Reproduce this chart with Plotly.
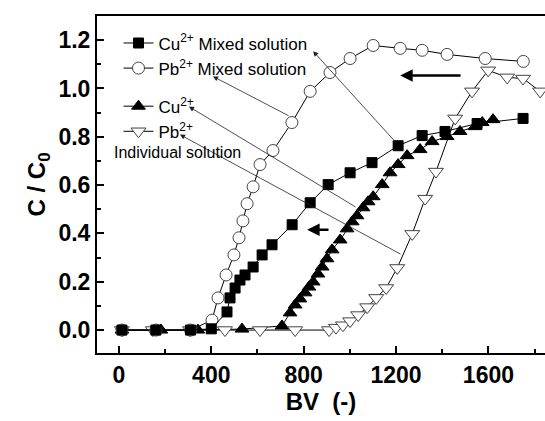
import plotly.graph_objects as go

# ---- data ----
cu_mix_bv = [13, 160, 310, 400, 468, 481, 503, 524, 546, 581, 620, 663, 750, 828, 906, 1001, 1096, 1209, 1313, 1412, 1551, 1750]
cu_mix_c = [0, 0, 0, 0.005, 0.075, 0.133, 0.174, 0.207, 0.228, 0.261, 0.311, 0.353, 0.436, 0.527, 0.602, 0.651, 0.693, 0.763, 0.805, 0.822, 0.855, 0.876]

pb_mix_bv = [13, 160, 310, 403, 429, 464, 498, 520, 537, 555, 581, 611, 667, 749, 828, 914, 1001, 1101, 1218, 1313, 1421, 1586, 1751]
pb_mix_c = [0, 0, 0, 0.041, 0.133, 0.228, 0.311, 0.382, 0.452, 0.523, 0.593, 0.685, 0.743, 0.859, 0.988, 1.066, 1.124, 1.178, 1.166, 1.158, 1.141, 1.124, 1.112]

cu_ind_bv = [13, 182, 342, 533, 706, 741, 763, 784, 806, 823, 841, 862, 880, 901, 923, 958, 988, 1010, 1031, 1057, 1079, 1101, 1140, 1174, 1209, 1248, 1304, 1356, 1421, 1477, 1542, 1573, 1620]
cu_ind_c = [0, 0, 0, 0.004, 0.017, 0.071, 0.104, 0.129, 0.154, 0.178, 0.199, 0.232, 0.261, 0.295, 0.332, 0.373, 0.419, 0.448, 0.473, 0.506, 0.531, 0.552, 0.602, 0.651, 0.685, 0.722, 0.747, 0.780, 0.801, 0.822, 0.842, 0.859, 0.871]

pb_ind_bv = [13, 147, 308, 459, 611, 763, 910, 940, 970, 1001, 1036, 1075, 1114, 1157, 1205, 1270, 1326, 1373, 1456, 1529, 1599, 1681, 1750, 1824]
pb_ind_c = [0, 0, 0, 0, 0, 0, 0.0, 0.01, 0.02, 0.037, 0.062, 0.095, 0.133, 0.174, 0.257, 0.398, 0.544, 0.656, 0.876, 0.988, 1.075, 1.046, 1.041, 0.988]

x_ticks = [0, 400, 800, 1200, 1600]
y_ticks = [0.0, 0.2, 0.4, 0.6, 0.8, 1.0, 1.2]

FONT = "Liberation Sans, Arial, sans-serif"
LINE = dict(color="black", width=1)

fig = go.Figure()
fig.add_trace(go.Scatter(
    x=cu_ind_bv, y=cu_ind_c, mode="lines+markers", name="Cu<sup>2+</sup>",
    legendgroup="ind", line=LINE, legendrank=3,
    marker=dict(symbol="triangle-up", size=12, color="black", line=dict(color="black", width=1))))
fig.add_trace(go.Scatter(
    x=pb_ind_bv, y=pb_ind_c, mode="lines+markers", name="Pb<sup>2+</sup>",
    legendgroup="ind", line=LINE, legendrank=4,
    marker=dict(symbol="triangle-down", size=13, color="white", line=dict(color="#444", width=1))))
fig.add_trace(go.Scatter(
    x=pb_mix_bv, y=pb_mix_c, mode="lines+markers", name="Pb<sup>2+</sup> Mixed solution",
    legendgroup="mix", line=LINE, legendrank=2,
    marker=dict(symbol="circle", size=12, color="white", line=dict(color="#444", width=1))))
fig.add_trace(go.Scatter(
    x=cu_mix_bv, y=cu_mix_c, mode="lines+markers", name="Cu<sup>2+</sup> Mixed solution",
    legendgroup="mix", line=LINE, legendrank=1,
    marker=dict(symbol="square", size=10, color="black", line=dict(color="black", width=1))))

annotations = []
# thin pointer arrows (head, tail) in data coordinates
pointers = [((841, 1.154), (1196, 0.78)),
            ((407, 1.05), (741, 0.884)),
            ((303, 0.925), (1031, 0.506)),
            ((264, 0.809), (1226, 0.311))]
for (hx, hy), (tx, ty) in pointers:
    annotations.append(dict(x=hx, y=hy, ax=tx, ay=ty, xref="x", yref="y", axref="x", ayref="y",
                            text="", showarrow=True, arrowhead=2, arrowsize=1.3, arrowwidth=0.8,
                            arrowcolor="#222"))
# bold direction arrows
for (hx, hy), (tx, ty) in [((1218, 1.054), (1486, 1.054)), ((815, 0.415), (914, 0.415))]:
    annotations.append(dict(x=hx, y=hy, ax=tx, ay=ty, xref="x", yref="y", axref="x", ayref="y",
                            text="", showarrow=True, arrowhead=2, arrowsize=1, arrowwidth=2.5,
                            arrowcolor="black"))
annotations.append(dict(x=0.034, y=0.596, xref="paper", yref="paper", xanchor="left", yanchor="middle",
                        text="Individual solution", showarrow=False,
                        font=dict(family=FONT, size=16, color="black")))

fig.update_layout(
    width=545, height=421,
    margin=dict(l=97, r=0, t=16, b=68),
    paper_bgcolor="white", plot_bgcolor="white",
    font=dict(family=FONT, color="black"),
    showlegend=True,
    legend=dict(x=0.048, y=0.972, xanchor="left", yanchor="top", bgcolor="rgba(0,0,0,0)",
                font=dict(family=FONT, size=17, color="black"), traceorder="grouped",
                tracegroupgap=13, itemwidth=30),
    annotations=annotations,
)
fig.update_xaxes(
    range=[-95, 1845], tickvals=x_ticks, ticktext=[str(v) for v in x_ticks],
    ticks="inside", ticklen=7, tickwidth=2, tickcolor="black",
    minor=dict(tickvals=[200, 600, 1000, 1400, 1800], ticks="inside", ticklen=4, tickwidth=1.5, tickcolor="black"),
    showline=True, linewidth=2, linecolor="black", mirror=True,
    showgrid=False, zeroline=False,
    tickfont=dict(family=FONT, size=23, weight="bold"),
    title=dict(text="BV  (-)", font=dict(family=FONT, size=24, weight="bold"), standoff=2),
)
fig.update_yaxes(
    range=[-0.095, 1.30], tickvals=y_ticks, ticktext=["%.1f" % v for v in y_ticks],
    ticks="inside", ticklen=7, tickwidth=2, tickcolor="black",
    minor=dict(tickvals=[0.1, 0.3, 0.5, 0.7, 0.9, 1.1], ticks="inside", ticklen=4, tickwidth=1.5, tickcolor="black"),
    showline=True, linewidth=2, linecolor="black", mirror=False,
    showgrid=False, zeroline=False,
    tickfont=dict(family=FONT, size=23, weight="bold"),
    title=dict(text="C / C<sub>0</sub>", font=dict(family=FONT, size=24, weight="bold"), standoff=6),
)

fig.write_html("out.html")
